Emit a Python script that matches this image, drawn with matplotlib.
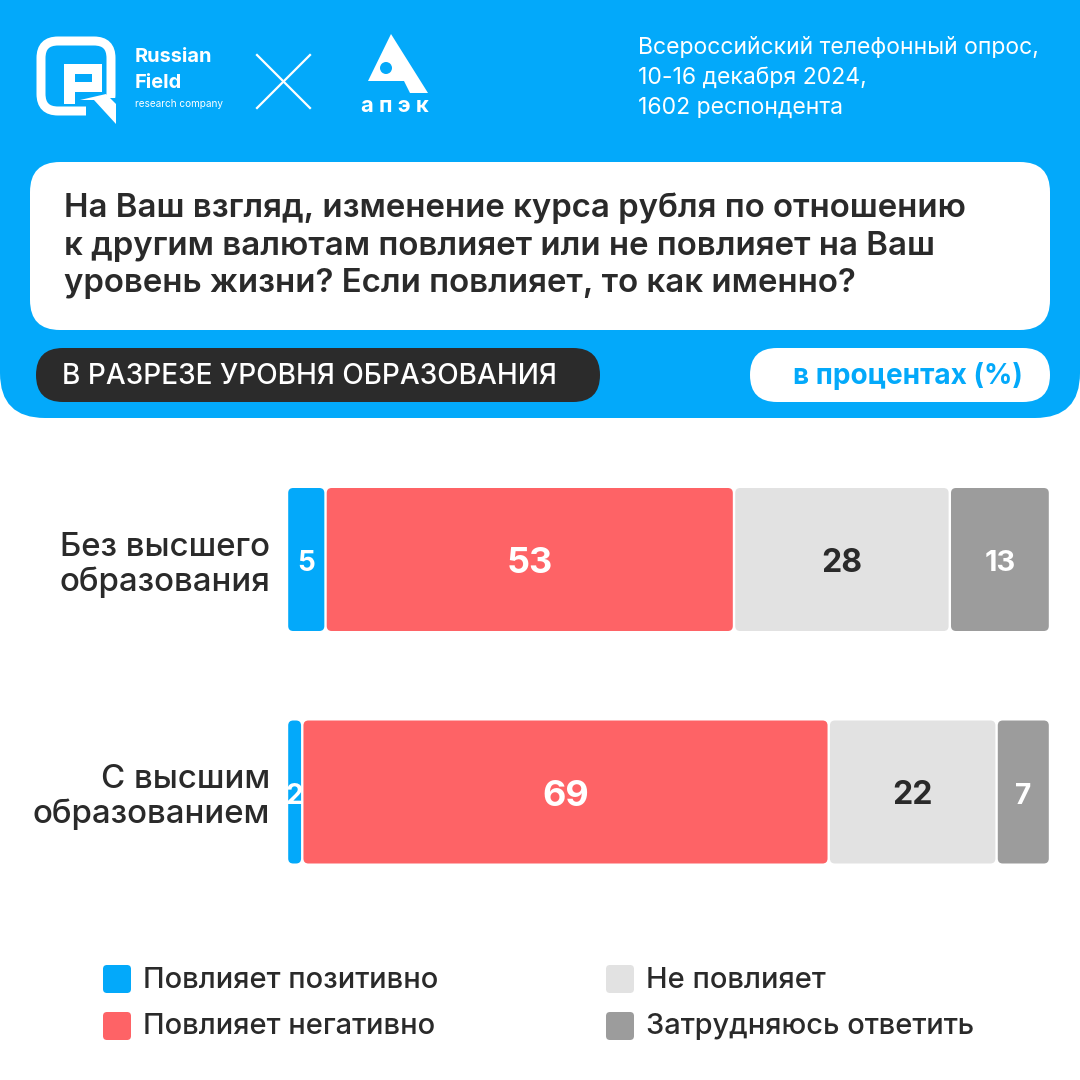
import numpy as np
import matplotlib
matplotlib.use("Agg")
import matplotlib.pyplot as plt
from matplotlib.patches import FancyBboxPatch, Polygon, Circle, Rectangle

plt.rcParams['font.family'] = ['Inter', 'DejaVu Sans']

# data
categories = ['Без высшего\nобразования', 'С высшим\nобразованием']
series_names = ['Повлияет позитивно', 'Повлияет негативно', 'Не повлияет', 'Затрудняюсь ответить']
positive = [5, 2]
negative = [53, 69]
no_effect = [28, 22]
hard_to_say = [13, 7]

question = ('На Ваш взгляд, изменение курса рубля по отношению\n'
            'к другим валютам повлияет или не повлияет на Ваш\n'
            'уровень жизни? Если повлияет, то как именно?')
survey_info = ['Всероссийский телефонный опрос,', '10-16 декабря 2024,', '1602 респондента']
section_label = 'В РАЗРЕЗЕ УРОВНЯ ОБРАЗОВАНИЯ'
unit_label = 'в процентах (%)'

BLUE = '#03A9FA'
RED = '#FE6366'
LIGHT = '#E2E2E2'
GREY = '#9C9C9C'
DARK = '#2B2B2B'
TEXT = '#2A2A2A'
colors = [BLUE, RED, LIGHT, GREY]
label_colors = ['white', 'white', TEXT, 'white']

W = H = 1080
fig = plt.figure(figsize=(10.8, 10.8), dpi=100)
fig.patch.set_facecolor('white')

# background layer in pixel coords
bg = fig.add_axes([0, 0, 1, 1])
bg.set_xlim(0, W)
bg.set_ylim(H, 0)
bg.axis('off')


def pt(px):
    return px * 0.72


def rbox(x0, y0, x1, y1, r, color):
    bg.add_patch(FancyBboxPatch((x0 + r, y0 + r), x1 - x0 - 2 * r, y1 - y0 - 2 * r,
                                boxstyle=f"round,pad={r}", fc=color, ec='none'))


# header
rbox(0, -80, W, 418, 45, BLUE)
rbox(30, 162, 1050, 330, 30, 'white')
rbox(36, 348, 600, 402, 27, DARK)
rbox(750, 348, 1050, 402, 27, 'white')

bg.text(64, 246, question, fontsize=pt(33), fontweight='semibold', color=TEXT,
        va='center', ha='left', linespacing=1.27)
bg.text(62, 376, section_label, fontsize=pt(28), fontweight='medium', color='white',
        va='center', ha='left')
bg.text(908, 376, unit_label, fontsize=pt(28), fontweight='bold', color=BLUE,
        va='center', ha='center')
for i, line in enumerate(survey_info):
    bg.text(638, 48 + i * 30, line, fontsize=pt(23), color='white', va='center', ha='left')

# Russian Field logo (approximation)
bg.add_patch(FancyBboxPatch((58, 58), 36, 36, boxstyle="round,pad=17",
                            fc='none', ec='white', lw=pt(9)))
bg.add_patch(Rectangle((86, 98), 34, 22, fc=BLUE, ec='none'))
bg.add_patch(Rectangle((64, 64), 11, 40, fc='white', ec='none'))
bg.add_patch(Rectangle((64, 64), 38, 10, fc='white', ec='none'))
bg.add_patch(Rectangle((64, 82), 38, 10, fc='white', ec='none'))
bg.add_patch(Rectangle((92, 64), 10, 28, fc='white', ec='none'))
bg.add_patch(Polygon([(80, 100), (94, 100), (116, 124), (116, 104), (106, 94)],
                     fc='white', ec='none'))
bg.text(135, 57, 'Russian', fontsize=pt(20), fontweight='bold', color='white', va='center')
bg.text(135, 83, 'Field', fontsize=pt(20), fontweight='bold', color='white', va='center')
bg.text(135, 104, 'research company', fontsize=pt(10), color='white', va='center')
bg.plot([257, 310], [55, 108], color='white', lw=1.6)
bg.plot([257, 310], [108, 55], color='white', lw=1.6)

# APEK logo (approximation)
bg.add_patch(Polygon([(391, 34), (368, 81), (404, 81), (410, 93), (428, 93)], fc='white', ec='none'))
bg.add_patch(Circle((386, 68), 6, fc=BLUE, ec='none'))
bg.text(395, 106, 'а п э к', fontsize=pt(22), fontweight='bold', color='white',
        va='center', ha='center')

# bars
x0_px, x1_px = 287, 1050
row_gap = 232.5
top_center = 559.5
ax = fig.add_axes([x0_px / W, 1 - (top_center + 1.5 * row_gap) / H,
                   (x1_px - x0_px) / W, 2 * row_gap / H])
ax.patch.set_alpha(0)
ax.set_xlim(0, 100)
ax.set_ylim(1.5, -0.5)
for s in ax.spines.values():
    s.set_visible(False)

data = np.array([positive, negative, no_effect, hard_to_say], dtype=float)
totals = data.sum(axis=0)
shares = data / totals * 100
y = np.arange(len(categories))
bar_h = 143 / row_gap

px_per_x = (x1_px - x0_px) / 100
px_per_y = row_gap
aspect = px_per_x / px_per_y
rad = 5 / px_per_x
label_shift = 4 / px_per_y

left = np.zeros(len(categories))
for k in range(len(series_names)):
    bars = ax.barh(y, shares[k], left=left, height=bar_h, color=colors[k])
    for b, val, yi in zip(bars, data[k], y):
        bx, by = b.get_x(), b.get_y()
        bw, bh = b.get_width(), b.get_height()
        b.set_visible(False)
        gap = 1.2 / px_per_x
        ax.add_patch(FancyBboxPatch((bx + gap + rad, by + rad * aspect),
                                    bw - 2 * gap - 2 * rad, bh - 2 * rad * aspect,
                                    boxstyle=f"round,pad={rad}", mutation_aspect=aspect,
                                    fc=colors[k], ec='none'))
        if k == 1:
            fs = 36
        elif k == 0 or (k == 3 and val < 10):
            fs = 28
        elif k == 3:
            fs = 29
        else:
            fs = 32
        ax.text(bx + bw / 2, yi + label_shift, f'{int(val)}', ha='center', va='center',
                fontsize=pt(fs), fontweight='bold', color=label_colors[k])
    left += shares[k]

ax.set_xticks([])
ax.set_yticks(y)
ax.set_yticklabels(categories, fontsize=pt(33), fontweight='medium', color=TEXT,
                   linespacing=1.13)
ax.tick_params(axis='y', length=0, pad=pt(17))

# legend
leg_pos = [(103, 979), (103, 1026), (606, 979), (606, 1026)]
for (lx, ly), name, c in zip(leg_pos, series_names, colors):
    rbox(lx, ly - 14, lx + 28, ly + 14, 4, c)
    bg.text(lx + 40, ly + 1, name, fontsize=pt(29), fontweight='medium', color=TEXT,
            va='center', ha='left')

fig.savefig('out.png', dpi=100, facecolor='white')
